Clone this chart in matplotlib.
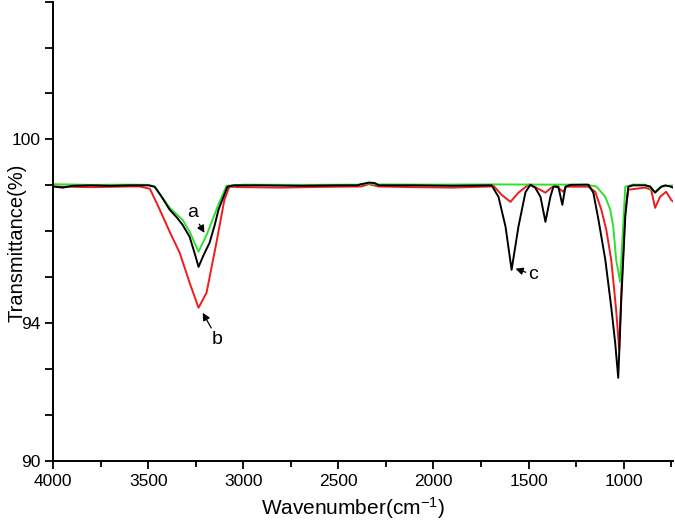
import numpy as np
import matplotlib.pyplot as plt

plt.rcParams['font.family'] = ['Liberation Sans', 'DejaVu Sans']
plt.rcParams['mathtext.fontset'] = 'custom'
plt.rcParams['mathtext.rm'] = 'Liberation Sans'
plt.rcParams['mathtext.it'] = 'Liberation Sans'

# curve a (green)
wn_a = [4000, 3800, 3600, 3500, 3467, 3388, 3320, 3283, 3236, 3189, 3136, 3089,
        3000, 2700, 2400, 2340, 2300, 2000, 1700, 1400, 1200, 1143, 1096, 1070,
        1054, 1039, 1018, 1007, 991, 950, 886, 834, 802, 740]
t_a = [102.05, 102.02, 102.03, 102.02, 101.94, 101.02, 100.5, 99.98, 99.11, 99.93,
       101.07, 101.98, 102.03, 102.02, 102.03, 102.08, 102.04, 102.03, 102.04, 102.03,
       102.03, 101.95, 101.5, 100.94, 100.2, 98.76, 97.8, 99.5, 101.94, 102.03,
       102.03, 101.72, 101.94, 102.0]

# curve b (red)
wn_b = [4000, 3800, 3600, 3545, 3492, 3440, 3388, 3335, 3283, 3236, 3194, 3142,
        3100, 3074, 3000, 2800, 2600, 2380, 2340, 2290, 2100, 1900, 1700, 1684,
        1642, 1595, 1553, 1500, 1459, 1411, 1380, 1359, 1317, 1301, 1186, 1149,
        1117, 1091, 1065, 1039, 1023, 1012, 991, 975, 886, 855, 834, 808, 776,
        750, 740]
t_b = [101.95, 101.92, 101.95, 101.95, 101.85, 100.94, 99.98, 99.06, 97.76, 96.67,
       97.32, 99.5, 101.37, 101.94, 101.92, 101.9, 101.93, 101.95, 102.05, 101.95,
       101.92, 101.9, 101.95, 101.98, 101.59, 101.28, 101.68, 102.03, 101.9, 101.68,
       101.9, 101.98, 101.72, 101.94, 101.94, 101.72, 100.94, 100.07, 98.76, 96.58,
       94.84, 97.32, 100.94, 101.81, 101.9, 101.81, 101.02, 101.5, 101.72,
       101.37, 101.3]

# curve c (black)
wn_c = [4000, 3950, 3900, 3800, 3700, 3600, 3500, 3467, 3430, 3388, 3350, 3320,
        3283, 3255, 3236, 3210, 3178, 3150, 3131, 3100, 3084, 3050, 2900, 2700,
        2500, 2400, 2380, 2340, 2310, 2287, 2100, 1900, 1700, 1694, 1658, 1621,
        1589, 1553, 1516, 1490, 1465, 1437, 1411, 1385, 1369, 1343, 1322, 1306,
        1280, 1185, 1159, 1132, 1096, 1065, 1044, 1028, 1012, 991, 975, 950, 886,
        860, 834, 802, 780, 750, 740]
t_c = [101.95, 101.9, 101.98, 102.0, 101.98, 102.0, 102.0, 101.94, 101.5, 100.94,
       100.6, 100.28, 99.76, 99.0, 98.45, 98.95, 99.5, 100.3, 100.94, 101.6, 101.94,
       102.0, 102.0, 101.98, 102.0, 102.0, 102.05, 102.12, 102.1, 102.0, 102.0,
       101.98, 102.0, 102.0, 101.5, 100.2, 98.32, 100.2, 101.7, 102.03, 101.9, 101.5,
       100.41, 101.5, 101.94, 101.94, 101.15, 101.94, 102.02, 102.03, 101.68, 100.5,
       98.76, 96.71, 95.14, 93.62, 97.02, 100.63, 101.94, 102.0, 102.0, 101.95,
       101.68, 101.94, 102.0, 101.94, 101.9]

ytick_pos = [90, 92, 94, 96, 98, 100, 102, 104, 106, 108, 110]
ytick_txt = ['90', '', '', '94', '', '', '', '100', '', '', '']

fig = plt.figure(figsize=(6.75, 5.25), dpi=100)
ax = fig.add_axes([0.079, 0.122, 0.918, 0.875])

ax.plot(wn_b, t_b, color='#ee1c1c', lw=1.4)
ax.plot(wn_a, t_a, color='#2fe02f', lw=1.4)
ax.plot(wn_c, t_c, color='black', lw=1.4)

arr = dict(arrowstyle='-|>', color='black', lw=0.9, mutation_scale=11, shrinkA=0, shrinkB=0)
ax.annotate('a', xy=(3205, 99.93), xytext=(3267, 100.8), fontsize=14,
            ha='center', va='center', arrowprops=arr)
ax.annotate('b', xy=(3214, 96.45), xytext=(3136, 95.3), fontsize=14,
            ha='center', va='center', arrowprops=arr)
ax.annotate('c', xy=(1568, 98.37), xytext=(1474, 98.1), fontsize=14,
            ha='center', va='center', arrowprops=arr)

ax.set_xlim(4000, 740)
ax.set_ylim(90, 110)
ax.set_xticks([4000, 3500, 3000, 2500, 2000, 1500, 1000])
ax.set_xticks(np.arange(3750, 700, -500), minor=True)
ax.set_yticks(ytick_pos)
ax.set_yticklabels(ytick_txt)

for s in ['top', 'right']:
    ax.spines[s].set_visible(False)
for s in ['left', 'bottom']:
    ax.spines[s].set_linewidth(1.4)
ax.tick_params(which='both', direction='out', width=1.3, labelsize=12.5)
ax.tick_params(which='major', length=6)
ax.tick_params(which='minor', length=4)

ax.set_xlabel('Wavenumber(cm$^{-1}$)', fontsize=15)
ax.xaxis.set_label_coords(0.484, -0.075)
ax.set_ylabel('Transmittance(%)', fontsize=14.5)
ax.yaxis.set_label_coords(-0.043, 0.475)

fig.savefig('out.png', dpi=100)
